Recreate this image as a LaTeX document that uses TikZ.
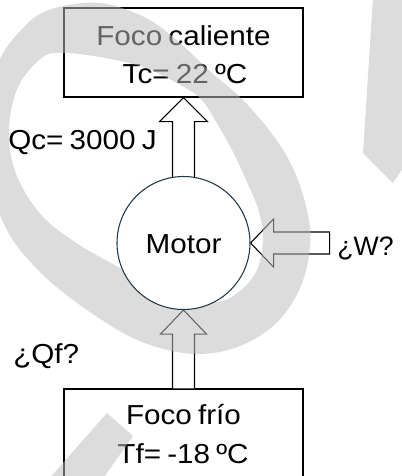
\documentclass[tikz,border=0pt]{standalone}
\usepackage{fontspec}
\setmainfont{Liberation Sans}[FakeStretch=1.08,WordSpace=0.75]
\newfontfamily\plainsans{Liberation Sans}
\usetikzlibrary{calc}
\definecolor{circ}{RGB}{33,58,74}
\pgfdeclarelayer{back}
\pgfdeclarelayer{mark}
\pgfsetlayers{back,mark,main}
\begin{document}
\begin{tikzpicture}[x=0.75pt,y=-0.75pt,
  box/.style={draw=black,line width=1pt,minimum width=179.25pt,minimum height=66.75pt,inner sep=0pt},
  lbl/.style={font=\fontsize{20.6}{24}\selectfont,inner sep=0pt,anchor=base},
  blk/.style={draw=black,line width=0.8pt,fill=white,line join=miter},
  wm/.style={fill=black!26,fill opacity=0.53,draw=none}]
\useasboundingbox (0,0) rectangle (401,476);
\clip (0,0) rectangle (401,476);
% motor circle (on top of the watermark)
\node[circle,draw=circ,line width=0.8pt,fill=white,minimum size=99.75pt,inner sep=0pt] (motor) at (183.5,243) {};
\node[lbl] (motortxt) at (183.5,253) {Motor};
\begin{pgfonlayer}{back}
\fill[white] (0,0) rectangle (401,476);
\node[box] (hot) at (183.5,52.5) {};
\node[box,minimum height=68.25pt] (cold) at (183.5,434.5) {};
\node[lbl] (hot1) at (183.5,45) {Foco caliente};
\node[lbl] (hot2) at (185,83) {Tc= 22 ºC};
\node[lbl] (cold1) at (183.5,424) {Foco frío};
\node[lbl] (cold2) at (183,463) {Tf= -18 ºC};
\node[lbl,anchor=base east] (qc) at (157,149) {Qc= 3000 J};
\node[lbl,anchor=base east,font=\fontsize{20}{24}\plainsans] (w) at (394,255) {¿W?};
\node[lbl,anchor=base west] (qf) at (13,363) {¿Qf?};
% block arrows
\draw[blk] ($(motor.north)+(-11,4)$) -- ($(hot.south)+(-11,24)$) -- ($(hot.south)+(-24,24)$) -- (hot.south) -- ($(hot.south)+(24,24)$) -- ($(hot.south)+(11,24)$) -- ($(motor.north)+(11,4)$);
\draw[blk] (motor.east) -- ++(23,-24) -- ++(0,13) -- ++(56,0) -- ++(0,22) -- ++(-56,0) -- ++(0,13) -- cycle;
\draw[blk] ($(cold.north)+(-11,0)$) -- ($(motor.south)+(-11,24)$) -- ($(motor.south)+(-23,24)$) -- (motor.south) -- ($(motor.south)+(23,24)$) -- ($(motor.south)+(11,24)$) -- ($(cold.north)+(11,0)$);
\end{pgfonlayer}
\begin{pgfonlayer}{mark}
\fill[wm,even odd rule]
  plot[smooth cycle,tension=0.6] coordinates {(63,6) (100,3) (140,15) (172,36) (212,73) (243,100) (275,138) (296,175) (309,220) (309,255) (300,288) (282,317) (258,337) (228,350) (195,354) (160,348) (125,334) (80,305) (40,272) (8,232) (-10,180) (-14,120) (-8,80) (5,50) (25,26) (40,14)}
  plot[smooth cycle,tension=0.6] coordinates {(43,57) (63,53) (100,57) (143,67) (175,82) (200,98) (215,120) (232,150) (247,182) (259,212) (263,240) (257,270) (240,291) (217,302) (183,295) (140,278) (100,257) (75,242) (43,217) (20,183) (10,150) (10,117) (20,83)};
\fill[wm] (373,-2) -- (403,-2) -- (403,168) -- (393,183) -- (363,153) -- cycle;
\fill[wm] (107,413) -- (133,436) -- (102,480) -- (48,480) -- cycle;
\end{pgfonlayer}
\end{tikzpicture}
\end{document}
